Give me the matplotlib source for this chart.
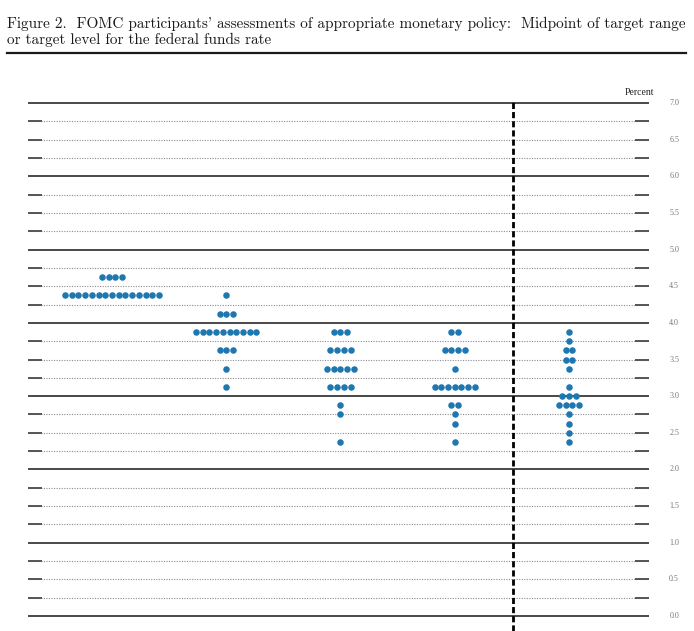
import numpy as np
import matplotlib.pyplot as plt

# Column labels (x positions 1..5) and the dots: midpoint rate and number of participants
columns = ["2024", "2025", "2026", "2027", "Longer run"]

rates_2024 = [4.625, 4.375]
counts_2024 = [4, 15]

rates_2025 = [4.375, 4.125, 3.875, 3.625, 3.375, 3.125]
counts_2025 = [1, 3, 10, 3, 1, 1]

rates_2026 = [3.875, 3.625, 3.375, 3.125, 2.875, 2.75, 2.375]
counts_2026 = [3, 4, 5, 4, 1, 1, 1]

rates_2027 = [3.875, 3.625, 3.375, 3.125, 2.875, 2.75, 2.625, 2.375]
counts_2027 = [2, 4, 1, 7, 2, 1, 1, 1]

rates_lr = [3.875, 3.75, 3.625, 3.5, 3.375, 3.125, 3.0, 2.875, 2.75, 2.625, 2.5, 2.375]
counts_lr = [1, 1, 2, 2, 1, 1, 3, 4, 1, 1, 1, 1]

y_labels = np.arange(0, 7.01, 0.5)

all_rates = [rates_2024, rates_2025, rates_2026, rates_2027, rates_lr]
all_counts = [counts_2024, counts_2025, counts_2026, counts_2027, counts_lr]

W, H = 694, 631
fig = plt.figure(figsize=(W / 100, H / 100), dpi=100)

# title in a TeX-like serif
title1 = "Figure 2.  FOMC participants' assessments of appropriate monetary policy:  Midpoint of target range"
title2 = "or target level for the federal funds rate"
title_fam = ["cmr10", "DejaVu Serif"]
fig.text(7 / W, 1 - 28 / H, title1, family=title_fam, fontsize=10.95, va="baseline", ha="left", color="#1a1a1a")
fig.text(7 / W, 1 - 44 / H, title2, family=title_fam, fontsize=10.95, va="baseline", ha="left", color="#1a1a1a")
fig.add_artist(plt.Line2D([7 / W, 686 / W], [1 - 53 / H, 1 - 53 / H], color="#1a1a1a", lw=1.6))

# axes: 7.0 sits at y=103 px, 0.0 at y=616 px
px_per_unit = (616 - 103) / 7.0
ax = fig.add_axes([28 / W, 0, 621 / W, (H - 101) / H])
ax.set_ylim(-(H - 616) / px_per_unit, 7.0 + 2 / px_per_unit)
ax.set_xlim(0.265, 5.70)
ax.axis("off")

spacing = 0.0587
for i, (rates, counts) in enumerate(zip(all_rates, all_counts)):
    center = i + 1
    for r, n in zip(rates, counts):
        xs = center + (np.arange(n) - (n - 1) / 2) * spacing
        ax.plot(xs, [r] * n, "o", ms=4.7, color="#1f77b0", mec="none", zorder=5)

# grid lines
x0, x1 = 0.265, 5.70
tick_len = 0.12
for v in np.arange(0, 7.01, 0.25):
    if abs(v - round(v)) < 1e-9:
        ax.plot([x0, x1], [v, v], color="#3a3a3a", lw=1.3, solid_capstyle="butt", clip_on=False)
    else:
        ax.plot([x0, x1], [v, v], color="#8c8c8c", lw=0.8, ls=(0, (1, 1.3)))
        ax.plot([x0, x0 + tick_len], [v, v], color="#555555", lw=1.4, solid_capstyle="butt")
        ax.plot([x1 - tick_len, x1], [v, v], color="#555555", lw=1.4, solid_capstyle="butt")

# separator before the longer run
ax.axvline(4.51, color="black", lw=2.0, ls=(0, (2.2, 1.1)), zorder=6)

# right-hand labels
for v in y_labels:
    ax.text(5.92, v, f"{v:.1f}", family="Liberation Serif", fontsize=5.8,
            color="#777777", ha="center", va="center", clip_on=False)
ax.text(5.615, 7.0 + 10 / px_per_unit, "Percent", family="Liberation Serif", fontsize=7,
        color="#222222", ha="center", va="center", clip_on=False)

fig.savefig("out.png", dpi=100)
